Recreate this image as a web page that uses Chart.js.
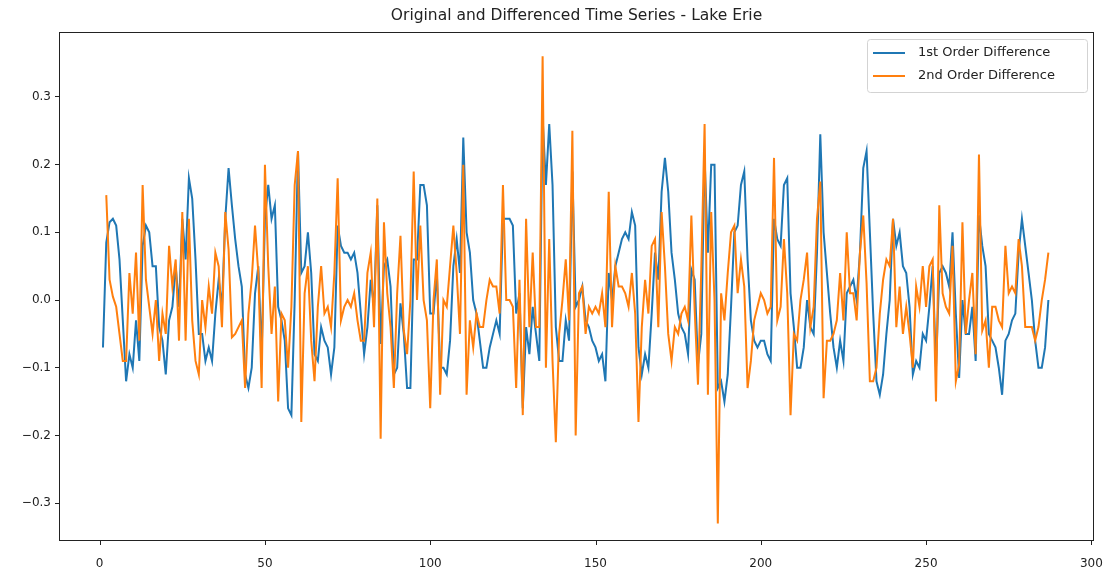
<!DOCTYPE html>
<html>
<head>
<meta charset="utf-8">
<script src="https://cdn.jsdelivr.net/npm/chart.js@4.4.1/dist/chart.umd.min.js"></script>
<style>
  html, body { margin: 0; padding: 0; background: #fff; }
  #wrap { width: 1104px; height: 575px; }
</style>
</head>
<body>
<div id="wrap"><canvas id="lakeChart" width="1104" height="575"></canvas></div>
<script>
const chartTitle = 'Original and Differenced Time Series - Lake Erie';
const seriesLabels = ['1st Order Difference', '2nd Order Difference'];
const seriesColors = ['#1f77b4', '#ff7f0e'];

// first value of each series sits at this x (months)
const firstDiffStart = 1;
const secondDiffStart = 2;

const firstDiff = [
    -0.07, 0.085, 0.115, 0.12, 0.11, 0.06, -0.03, -0.12, -0.08, -0.10,
    -0.03, -0.09, 0.08, 0.11, 0.10, 0.05, 0.05, -0.04, -0.06, -0.11,
    -0.03, -0.01, 0.05, -0.01, 0.12, 0.06, 0.18, 0.15, 0.06, -0.05,
    -0.05, -0.09, -0.07, -0.09, -0.02, 0.03, -0.01, 0.12, 0.195, 0.14,
    0.09, 0.05, 0.02, -0.11, -0.13, -0.10, 0.01, 0.05, -0.08, 0.12,
    0.17, 0.12, 0.14, -0.01, -0.03, -0.06, -0.16, -0.17, 0.0, 0.22,
    0.04, 0.05, 0.10, 0.04, -0.08, -0.09, -0.04, -0.06, -0.07, -0.11,
    -0.07, 0.11, 0.08, 0.07, 0.07, 0.06, 0.07, 0.04, -0.02, -0.08,
    -0.04, 0.03, -0.01, 0.14, -0.065, 0.05, 0.06, 0.02, -0.11, -0.10,
    -0.005, -0.05, -0.13, -0.13, 0.06, 0.06, 0.17, 0.17, 0.14, -0.02,
    -0.02, 0.04, -0.10, -0.10, -0.11, -0.06, 0.05, 0.09, 0.04, 0.24,
    0.10, 0.07, 0.0, -0.02, -0.06, -0.10, -0.10, -0.07, -0.05, -0.03,
    -0.05, 0.12, 0.12, 0.12, 0.11, -0.02, 0.01, -0.16, -0.04, -0.08,
    -0.01, -0.05, -0.09, 0.27, 0.17, 0.26, 0.17, -0.04, -0.09, -0.09,
    -0.03, -0.06, 0.19, -0.01, 0.0, 0.02, -0.03, -0.04, -0.06, -0.07,
    -0.09, -0.08, -0.12, 0.04, 0.0, 0.05, 0.07, 0.09, 0.10, 0.09,
    0.13, 0.11, -0.07, -0.11, -0.08, -0.10, -0.02, 0.07, 0.03, 0.16,
    0.21, 0.16, 0.07, 0.03, -0.02, -0.04, -0.05, -0.08, 0.045, 0.03,
    -0.095, -0.05, 0.21, 0.07, 0.20, 0.20, -0.13, -0.12, -0.15, -0.11,
    -0.01, 0.10, 0.11, 0.17, 0.19, 0.06, -0.03, -0.06, -0.07, -0.06,
    -0.06, -0.08, -0.09, 0.12, 0.09, 0.08, 0.17, 0.18, 0.01, -0.04,
    -0.10, -0.10, -0.07, 0.0, -0.04, -0.05, 0.07, 0.245, 0.10, 0.04,
    -0.02, -0.07, -0.10, -0.06, -0.09, 0.01, 0.02, 0.03, 0.0, 0.07,
    0.195, 0.22, 0.10, -0.02, -0.12, -0.14, -0.11, -0.05, 0.0, 0.12,
    0.08, 0.10, 0.05, 0.04, -0.01, -0.11, -0.09, -0.10, -0.05, -0.06,
    -0.01, 0.05, -0.10, 0.04, 0.05, 0.04, 0.02, 0.10, -0.02, -0.115,
    0.0, -0.05, -0.05, -0.01, -0.09, 0.125, 0.08, 0.05, -0.05, -0.06,
    -0.07, -0.10, -0.14, -0.06, -0.05, -0.03, -0.02, 0.07, 0.12, 0.08,
    0.04, 0.0, -0.06, -0.10, -0.10, -0.07, 0.0
];

const secondDiff = [
    0.155, 0.03, 0.005, -0.01, -0.05, -0.09, -0.09, 0.04, -0.02, 0.07,
    -0.06, 0.17, 0.03, -0.01, -0.05, 0.0, -0.09, -0.02, -0.05, 0.08,
    0.02, 0.06, -0.06, 0.13, -0.06, 0.12, -0.03, -0.09, -0.11, 0.0,
    -0.04, 0.02, -0.02, 0.07, 0.05, -0.04, 0.13, 0.075, -0.055, -0.05,
    -0.04, -0.03, -0.13, -0.02, 0.03, 0.11, 0.04, -0.13, 0.20, 0.05,
    -0.05, 0.02, -0.15, -0.02, -0.03, -0.10, -0.01, 0.17, 0.22, -0.18,
    0.01, 0.05, -0.06, -0.12, -0.01, 0.05, -0.02, -0.01, -0.04, 0.04,
    0.18, -0.03, -0.01, 0.0, -0.01, 0.01, -0.03, -0.06, -0.06, 0.04,
    0.07, -0.04, 0.15, -0.205, 0.115, 0.01, -0.04, -0.13, 0.01, 0.095,
    -0.045, -0.08, 0.0, 0.19, 0.0, 0.11, 0.0, -0.03, -0.16, 0.0,
    0.06, -0.14, 0.0, -0.01, 0.05, 0.11, 0.04, -0.05, 0.20, -0.14,
    -0.03, -0.07, -0.02, -0.04, -0.04, 0.0, 0.03, 0.02, 0.02, -0.02,
    0.17, 0.0, 0.0, -0.01, -0.13, 0.03, -0.17, 0.12, -0.04, 0.07,
    -0.04, -0.04, 0.36, -0.10, 0.09, -0.09, -0.21, -0.05, 0.0, 0.06,
    -0.03, 0.25, -0.20, 0.01, 0.02, -0.05, -0.01, -0.02, -0.01, -0.02,
    0.01, -0.04, 0.16, -0.04, 0.05, 0.02, 0.02, 0.01, -0.01, 0.04,
    -0.02, -0.18, -0.04, 0.03, -0.02, 0.08, 0.09, -0.04, 0.13, 0.05,
    -0.05, -0.09, -0.04, -0.05, -0.02, -0.01, -0.03, 0.125, -0.015, -0.125,
    0.045, 0.26, -0.14, 0.13, 0.0, -0.33, 0.01, -0.03, 0.04, 0.10,
    0.11, 0.01, 0.06, 0.02, -0.13, -0.09, -0.03, -0.01, 0.01, 0.0,
    -0.02, -0.01, 0.21, -0.03, -0.01, 0.09, 0.01, -0.17, -0.05, -0.06,
    0.0, 0.03, 0.07, -0.04, -0.01, 0.12, 0.175, -0.145, -0.06, -0.06,
    -0.05, -0.03, 0.04, -0.03, 0.10, 0.01, 0.01, -0.03, 0.07, 0.125,
    0.025, -0.12, -0.12, -0.10, -0.02, 0.03, 0.06, 0.05, 0.12, -0.04,
    0.02, -0.05, -0.01, -0.05, -0.10, 0.02, -0.01, 0.05, -0.01, 0.05,
    0.06, -0.15, 0.14, 0.01, -0.01, -0.02, 0.08, -0.12, -0.095, 0.115,
    -0.05, 0.0, 0.04, -0.08, 0.215, -0.045, -0.03, -0.10, -0.01, -0.01,
    -0.03, -0.04, 0.08, 0.01, 0.02, 0.01, 0.09, 0.05, -0.04, -0.04,
    -0.04, -0.06, -0.04, 0.0, 0.03, 0.07
];

const xTicks = [0, 50, 100, 150, 200, 250, 300];
const yTicks = [-0.3, -0.2, -0.1, 0.0, 0.1, 0.2, 0.3];

function toPoints(values, start) {
    return values.map((v, i) => ({ x: start + i, y: v }));
}

function fmtY(v) {
    const s = v.toFixed(1);
    return s === '-0.0' ? '0.0' : s.replace('-', '\u2212');
}

// frame, x tick marks, title and a matplotlib-like legend inside the plot
const decorPlugin = {
    id: 'decor',
    afterDraw(chart) {
        const { ctx, chartArea: a } = chart;
        const xs = chart.scales.x;
        ctx.save();
        ctx.strokeStyle = '#222';
        ctx.lineWidth = 1;
        ctx.strokeRect(a.left + 0.5, a.top + 0.5, a.right - a.left - 1, a.bottom - a.top - 1);

        ctx.beginPath();
        xTicks.forEach(v => {
            const px = Math.round(xs.getPixelForValue(v)) + 0.5;
            ctx.moveTo(px, a.bottom);
            ctx.lineTo(px, a.bottom + 4);
        });
        ctx.stroke();

        ctx.fillStyle = '#222';
        ctx.font = '15.5px "DejaVu Sans"';
        ctx.textAlign = 'center';
        ctx.textBaseline = 'middle';
        ctx.fillText(chartTitle, (a.left + a.right) / 2, 16);

        const bw = 220, bh = 53;
        const bx = a.right - 7 - bw, by = a.top + 7;
        ctx.beginPath();
        ctx.roundRect(bx + 0.5, by + 0.5, bw, bh, 3);
        ctx.fillStyle = 'rgba(255,255,255,0.8)';
        ctx.fill();
        ctx.strokeStyle = '#d3d3d3';
        ctx.stroke();

        ctx.font = '13px "DejaVu Sans"';
        ctx.textAlign = 'left';
        seriesLabels.forEach((label, i) => {
            const y = by + 14 + i * 23;
            ctx.strokeStyle = seriesColors[i];
            ctx.lineWidth = 2;
            ctx.beginPath();
            ctx.moveTo(bx + 6, y);
            ctx.lineTo(bx + 38, y);
            ctx.stroke();
            ctx.fillStyle = '#222';
            ctx.fillText(label, bx + 51, y);
        });
        ctx.restore();
    }
};

new Chart(document.getElementById('lakeChart').getContext('2d'), {
    type: 'line',
    data: {
        datasets: [
            { label: seriesLabels[0], data: toPoints(firstDiff, firstDiffStart), borderColor: seriesColors[0], order: 1 },
            { label: seriesLabels[1], data: toPoints(secondDiff, secondDiffStart), borderColor: seriesColors[1], order: 0 }
        ]
    },
    options: {
        responsive: false,
        animation: false,
        devicePixelRatio: 1,
        layout: { padding: { top: 32, right: 10, left: 0, bottom: 0 } },
        elements: {
            point: { radius: 0 },
            line: { borderWidth: 2, tension: 0 }
        },
        plugins: { legend: { display: false }, title: { display: false }, tooltip: { enabled: false } },
        scales: {
            x: {
                type: 'linear',
                min: -12.3,
                max: 300.8,
                afterBuildTicks: s => { s.ticks = xTicks.map(v => ({ value: v })); },
                afterFit: s => { s.height = 34; },
                // label offset comes from tickLength; the visible marks are drawn by decorPlugin
                grid: { drawOnChartArea: false, drawTicks: true, tickLength: 16, tickColor: 'rgba(0,0,0,0)' },
                border: { display: false },
                ticks: { color: '#222', padding: 0, maxRotation: 0, font: { family: 'DejaVu Sans', size: 12 }, callback: v => String(v) }
            },
            y: {
                type: 'linear',
                min: -0.356,
                max: 0.396,
                afterBuildTicks: s => { s.ticks = yTicks.map(v => ({ value: v })); },
                afterFit: s => { s.width = 59; },
                grid: { drawOnChartArea: false, drawTicks: true, tickLength: 4, tickColor: '#222' },
                border: { display: false },
                ticks: { color: '#222', padding: 4, font: { family: 'DejaVu Sans', size: 12 }, callback: v => fmtY(v) }
            }
        }
    },
    plugins: [decorPlugin]
});
</script>
</body>
</html>
